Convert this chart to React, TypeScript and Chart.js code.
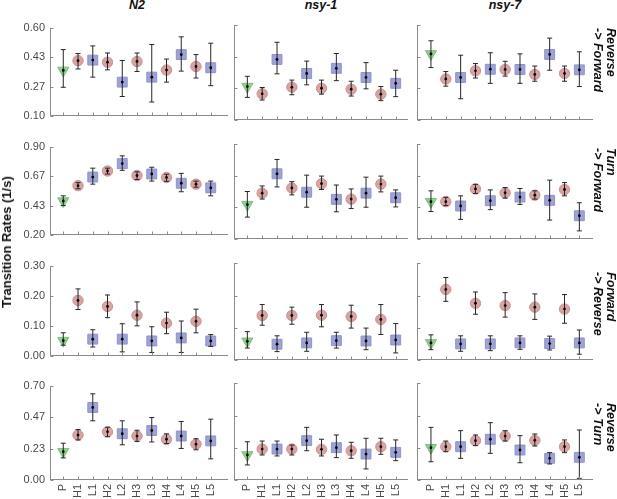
import React, { useEffect, useRef } from "react";
import { Chart, registerables } from "chart.js";
Chart.register(...registerables);

// ---------- categories, labels, ticks ----------
const categories = ["P", "H1", "L1", "H2", "L2", "H3", "L3", "H4", "L4", "H5", "L5"];
const xTickValues = [0, 1, 2, 3, 4, 5, 6, 7, 8, 9, 10];
const strains = ["N2", "nsy-1", "nsy-7"];
const transitionFirst = ["Reverse", "Turn", "Forward", "Reverse"];
const transitionSecond = ["-> Forward", "-> Forward", "-> Reverse", "-> Turn"];
const yAxisTitle = "Transition Rates (1/s)";
const yTicksRevFwd = [0.1, 0.2667, 0.4333, 0.6];
const yTicksTurnFwd = [0.2, 0.4333, 0.6667, 0.9];
const yTicksFwdRev = [0, 0.1, 0.2, 0.3];
const yTicksRevTurn = [0, 0.2333, 0.4667, 0.7];

// ---------- Reverse -> Forward ----------
const n2RevFwd = [0.359, 0.414, 0.417, 0.405, 0.293, 0.409, 0.321, 0.361, 0.448, 0.381, 0.374];
const n2RevFwdLo = [0.264, 0.367, 0.321, 0.362, 0.212, 0.353, 0.181, 0.293, 0.355, 0.316, 0.273];
const n2RevFwdHi = [0.476, 0.454, 0.497, 0.457, 0.415, 0.457, 0.505, 0.423, 0.548, 0.448, 0.512];
const nsy1RevFwd = [0.276, 0.238, 0.419, 0.273, 0.345, 0.267, 0.372, 0.262, 0.324, 0.236, 0.293];
const nsy1RevFwdLo = [0.219, 0.205, 0.343, 0.233, 0.285, 0.236, 0.307, 0.226, 0.264, 0.202, 0.223];
const nsy1RevFwdHi = [0.33, 0.271, 0.509, 0.31, 0.41, 0.31, 0.45, 0.304, 0.402, 0.276, 0.362];
const nsy7RevFwd = [0.448, 0.316, 0.324, 0.359, 0.367, 0.366, 0.366, 0.34, 0.445, 0.345, 0.364];
const nsy7RevFwdLo = [0.376, 0.278, 0.212, 0.321, 0.293, 0.331, 0.293, 0.304, 0.362, 0.304, 0.276];
const nsy7RevFwdHi = [0.517, 0.355, 0.441, 0.397, 0.454, 0.409, 0.448, 0.384, 0.531, 0.384, 0.459];

// ---------- Turn -> Forward ----------
const n2TurnFwd = [0.471, 0.592, 0.66, 0.708, 0.766, 0.672, 0.684, 0.657, 0.611, 0.604, 0.575];
const n2TurnFwdLo = [0.435, 0.568, 0.604, 0.684, 0.713, 0.641, 0.628, 0.626, 0.544, 0.58, 0.512];
const n2TurnFwdHi = [0.512, 0.616, 0.73, 0.73, 0.827, 0.701, 0.737, 0.682, 0.689, 0.628, 0.628];
const nsy1TurnFwd = [0.454, 0.539, 0.682, 0.577, 0.546, 0.609, 0.493, 0.495, 0.539, 0.606, 0.505];
const nsy1TurnFwdLo = [0.362, 0.495, 0.585, 0.526, 0.435, 0.566, 0.401, 0.425, 0.435, 0.548, 0.437];
const nsy1TurnFwdHi = [0.551, 0.592, 0.788, 0.624, 0.672, 0.665, 0.599, 0.57, 0.657, 0.665, 0.563];
const nsy7TurnFwd = [0.476, 0.476, 0.444, 0.57, 0.483, 0.541, 0.51, 0.524, 0.486, 0.566, 0.372];
const nsy7TurnFwdLo = [0.403, 0.447, 0.345, 0.537, 0.417, 0.502, 0.456, 0.495, 0.34, 0.519, 0.26];
const nsy7TurnFwdHi = [0.556, 0.508, 0.519, 0.604, 0.563, 0.58, 0.573, 0.556, 0.635, 0.617, 0.468];

// ---------- Forward -> Reverse ----------
const n2FwdRev = [0.052, 0.185, 0.057, 0.165, 0.057, 0.136, 0.051, 0.11, 0.061, 0.116, 0.051];
const n2FwdRevLo = [0.037, 0.155, 0.031, 0.128, 0.015, 0.101, 0.013, 0.075, 0.013, 0.078, 0.033];
const n2FwdRevHi = [0.078, 0.223, 0.088, 0.203, 0.108, 0.18, 0.098, 0.146, 0.117, 0.156, 0.072];
const nsy1FwdRev = [0.058, 0.138, 0.049, 0.138, 0.053, 0.139, 0.06, 0.135, 0.059, 0.126, 0.062];
const nsy1FwdRevLo = [0.037, 0.108, 0.026, 0.111, 0.027, 0.103, 0.037, 0.099, 0.032, 0.079, 0.022];
const nsy1FwdRevHi = [0.088, 0.172, 0.075, 0.164, 0.086, 0.172, 0.086, 0.17, 0.099, 0.172, 0.113];
const nsy7FwdRev = [0.053, 0.219, 0.05, 0.176, 0.05, 0.169, 0.053, 0.164, 0.051, 0.158, 0.053];
const nsy7FwdRevLo = [0.032, 0.182, 0.027, 0.142, 0.029, 0.133, 0.033, 0.126, 0.031, 0.114, 0.018];
const nsy7FwdRevHi = [0.078, 0.256, 0.075, 0.211, 0.075, 0.209, 0.075, 0.205, 0.074, 0.203, 0.093];

// ---------- Reverse -> Turn ----------
const n2RevTurn = [0.21, 0.333, 0.538, 0.357, 0.343, 0.326, 0.367, 0.302, 0.326, 0.266, 0.29];
const n2RevTurnLo = [0.164, 0.297, 0.439, 0.321, 0.261, 0.285, 0.282, 0.27, 0.234, 0.224, 0.157];
const n2RevTurnHi = [0.273, 0.374, 0.639, 0.391, 0.439, 0.369, 0.463, 0.342, 0.434, 0.306, 0.451];
const nsy1RevTurn = [0.181, 0.224, 0.224, 0.224, 0.285, 0.222, 0.234, 0.212, 0.188, 0.241, 0.2];
const nsy1RevTurnLo = [0.109, 0.181, 0.174, 0.181, 0.212, 0.174, 0.162, 0.157, 0.08, 0.186, 0.14];
const nsy1RevTurnHi = [0.277, 0.282, 0.282, 0.253, 0.381, 0.295, 0.326, 0.273, 0.302, 0.302, 0.29];
const nsy7RevTurn = [0.234, 0.241, 0.241, 0.285, 0.295, 0.318, 0.217, 0.287, 0.157, 0.241, 0.164];
const nsy7RevTurnLo = [0.132, 0.205, 0.157, 0.249, 0.193, 0.282, 0.125, 0.246, 0.116, 0.198, 0.012];
const nsy7RevTurnHi = [0.381, 0.282, 0.357, 0.326, 0.415, 0.357, 0.321, 0.333, 0.198, 0.29, 0.362];

type Series = { mean: number[]; lo: number[]; hi: number[] };
const panelSeries: Series[][] = [
  [
    { mean: n2RevFwd, lo: n2RevFwdLo, hi: n2RevFwdHi },
    { mean: nsy1RevFwd, lo: nsy1RevFwdLo, hi: nsy1RevFwdHi },
    { mean: nsy7RevFwd, lo: nsy7RevFwdLo, hi: nsy7RevFwdHi },
  ],
  [
    { mean: n2TurnFwd, lo: n2TurnFwdLo, hi: n2TurnFwdHi },
    { mean: nsy1TurnFwd, lo: nsy1TurnFwdLo, hi: nsy1TurnFwdHi },
    { mean: nsy7TurnFwd, lo: nsy7TurnFwdLo, hi: nsy7TurnFwdHi },
  ],
  [
    { mean: n2FwdRev, lo: n2FwdRevLo, hi: n2FwdRevHi },
    { mean: nsy1FwdRev, lo: nsy1FwdRevLo, hi: nsy1FwdRevHi },
    { mean: nsy7FwdRev, lo: nsy7FwdRevLo, hi: nsy7FwdRevHi },
  ],
  [
    { mean: n2RevTurn, lo: n2RevTurnLo, hi: n2RevTurnHi },
    { mean: nsy1RevTurn, lo: nsy1RevTurnLo, hi: nsy1RevTurnHi },
    { mean: nsy7RevTurn, lo: nsy7RevTurnLo, hi: nsy7RevTurnHi },
  ],
];
const rowTicks = [yTicksRevFwd, yTicksTurnFwd, yTicksFwdRev, yTicksRevTurn];

// ---------- layout & style ----------
const FONT = '"Liberation Sans", Arial, Helvetica, sans-serif';
const AXIS = "#8a8a8a";
const COL_LEFT = [50, 234, 417.3];
const COL_W = [177.7, 174.3, 175.4];
const X_MIN = [-0.9, -0.9, -0.92];
const X_MAX = [11.15, 10.85, 10.9];
const ROW_TOP = [25, 144.3, 263.3, 383.3];
const ROW_H = [96.7, 96.4, 97.7, 96.7];
const COL_CENTER = [137, 321, 505];
const LABEL_START = [28, 148, 272, 403];

function Panel({ row, col }: { row: number; col: number }) {
  const ref = useRef<HTMLCanvasElement>(null);
  const wantL = col === 0 ? 50 : 12;
  const left = Math.floor(COL_LEFT[col] - wantL);
  const padL = COL_LEFT[col] - left;
  const top = Math.floor(ROW_TOP[row] - 9);
  const padT = ROW_TOP[row] - top;
  const extraB = row === 3 ? 19 : 6;
  const width = Math.ceil(padL + COL_W[col] + 12);
  const padR = width - padL - COL_W[col];
  const height = Math.ceil(padT + ROW_H[row] + extraB);
  const padB = height - padT - ROW_H[row];
  useEffect(() => {
    const s = panelSeries[row][col];
    const m = s.mean;
    const yTicks = rowTicks[row];
    const plugin: any = { id: "decor" };
    plugin.afterDatasetsDraw = (chart: any) => {
      const { ctx } = chart;
      const x = chart.scales.x, y = chart.scales.y;
      ctx.save();
      ctx.strokeStyle = "#262626";
      ctx.lineWidth = 1;
      m.forEach((_v, i) => {
        const px = x.getPixelForValue(i);
        const pl = y.getPixelForValue(s.lo[i]);
        const ph = y.getPixelForValue(s.hi[i]);
        ctx.beginPath();
        ctx.moveTo(px, pl); ctx.lineTo(px, ph);
        ctx.moveTo(px - 2.5, pl); ctx.lineTo(px + 2.5, pl);
        ctx.moveTo(px - 2.5, ph); ctx.lineTo(px + 2.5, ph);
        ctx.stroke();
      });
      ctx.fillStyle = "#000";
      m.forEach((v, i) => {
        ctx.beginPath();
        ctx.arc(x.getPixelForValue(i), y.getPixelForValue(v), 1.4, 0, Math.PI * 2);
        ctx.fill();
      });
      ctx.restore();
    };
    plugin.afterDraw = (chart: any) => {
      const { ctx } = chart;
      const x = chart.scales.x, y = chart.scales.y;
      const xl = x.getPixelForValue(x.min);
      const xr = x.getPixelForValue(x.max);
      const yt = y.getPixelForValue(y.max);
      const yb = y.getPixelForValue(y.min);
      // remove any stray frame along the top and right edges of the plot area
      ctx.save();
      ctx.clearRect(Math.round(xl) + 2, Math.round(yt) - 2, Math.round(xr) - Math.round(xl) + 4, 4);
      ctx.clearRect(Math.round(xr) - 2, Math.round(yt) - 2, 5, Math.round(yb) - Math.round(yt) + 1);
      ctx.strokeStyle = AXIS;
      ctx.lineWidth = 1;
      ctx.beginPath();
      const lx = Math.round(xl) + 0.5;
      const by = Math.round(yb) - 0.5;
      ctx.moveTo(lx, Math.round(yt));
      ctx.lineTo(lx, by + 0.5);
      ctx.moveTo(lx - 0.5, by);
      ctx.lineTo(Math.round(xr), by);
      yTicks.forEach((v) => { const py = Math.round(y.getPixelForValue(v)) + 0.5; ctx.moveTo(lx, py); ctx.lineTo(lx + 3, py); });
      xTickValues.forEach((v) => { const px = Math.round(x.getPixelForValue(v)) + 0.5; ctx.moveTo(px, by); ctx.lineTo(px, by - 3); });
      ctx.stroke();
      ctx.restore();
    };
    const hidden = { display: false, drawOnChartArea: false, drawTicks: false };
    const chart = new Chart(ref.current as HTMLCanvasElement, {
      type: "scatter",
      data: {
        datasets: [
          { data: [{ x: 0, y: m[0] }], pointStyle: "triangle", rotation: 180, pointRadius: 6.5, backgroundColor: "#8fcd8f", borderColor: "#7fc07f", borderWidth: 1 },
          { data: [1, 3, 5, 7, 9].map((i) => ({ x: i, y: m[i] })), pointStyle: "circle", pointRadius: 5.2, backgroundColor: "#d8a3a3", borderColor: "#cc9292", borderWidth: 1 },
          { data: [2, 4, 6, 8, 10].map((i) => ({ x: i, y: m[i] })), pointStyle: "rect", pointRadius: 7, backgroundColor: "#9ea2d6", borderColor: "#8f94cc", borderWidth: 1 },
        ] as any,
      },
      options: {
        responsive: false, animation: false, events: [],
        layout: { padding: { left: 0, top: padT, right: padR, bottom: 0 } },
        plugins: { legend: { display: false }, tooltip: { enabled: false } },
        scales: {
          x: { type: "linear", min: X_MIN[col], max: X_MAX[col],
            afterBuildTicks: (sc: any) => { sc.ticks = xTickValues.map((v) => ({ value: v })); },
            afterFit: (sc: any) => { sc.height = padB; },
            grid: hidden, border: { display: false },
            ticks: { display: row === 3, autoSkip: false, minRotation: 90, maxRotation: 90, padding: 4, color: "#4a4a4a", font: { family: "Liberation Sans", size: 11 }, callback: (v: any) => categories[Math.round(Number(v))] ?? "" } },
          y: { type: "linear", min: yTicks[0], max: yTicks[yTicks.length - 1],
            afterBuildTicks: (sc: any) => { sc.ticks = yTicks.map((v) => ({ value: v })); },
            afterFit: (sc: any) => { sc.width = padL; },
            grid: hidden, border: { display: false },
            ticks: { display: col === 0, padding: 5, color: "#4a4a4a", font: { family: "Liberation Sans", size: 11 }, callback: (v: any) => Number(v).toFixed(2) } },
        },
      } as any,
      plugins: [plugin],
    });
    return () => chart.destroy();
  }, [row, col]);
  return <canvas ref={ref} width={width} height={height} style={{ position: "absolute", left, top, width, height }} />;
}

const textBase: React.CSSProperties = {
  position: "absolute",
  whiteSpace: "nowrap",
  lineHeight: 1,
  fontFamily: FONT,
  fontWeight: "bold",
  color: "#111",
};

export default function App() {
  const rows = [0, 1, 2, 3];
  const cols = [0, 1, 2];
  const titleSize = 12.5;
  const labelSize = 12.5;
  return (
    <div style={{ position: "absolute", left: 0, top: 0, width: 617, height: 499, background: "#fff", overflow: "hidden" }}>
      {rows.map((r) => cols.map((c) => <Panel key={`${r}-${c}`} row={r} col={c} />))}
      {strains.map((name, c) => (
        <div
          key={name}
          style={{ ...textBase, fontStyle: "italic", fontSize: titleSize, left: COL_CENTER[c] - 50, width: 100, textAlign: "center", top: 9.5 - 0.8465 * titleSize }}
        >
          {name}
        </div>
      ))}
      {rows.map((r) => (
        <React.Fragment key={`lab${r}`}>
          <div
            style={{ ...textBase, fontStyle: "italic", fontSize: labelSize, left: 606 + 0.8465 * labelSize, top: LABEL_START[r], transform: "rotate(90deg)", transformOrigin: "0 0" }}
          >
            {transitionFirst[r]}
          </div>
          <div
            style={{ ...textBase, fontStyle: "italic", fontSize: labelSize, left: 593.5 + 0.8465 * labelSize, top: LABEL_START[r], transform: "rotate(90deg)", transformOrigin: "0 0" }}
          >
            {transitionSecond[r]}
          </div>
        </React.Fragment>
      ))}
      <div
        style={{ ...textBase, fontSize: 13, left: 10.5 - 0.8465 * 13, top: 242, transform: "rotate(-90deg) translateX(-50%)", transformOrigin: "0 0" }}
      >
        {yAxisTitle}
      </div>
    </div>
  );
}
